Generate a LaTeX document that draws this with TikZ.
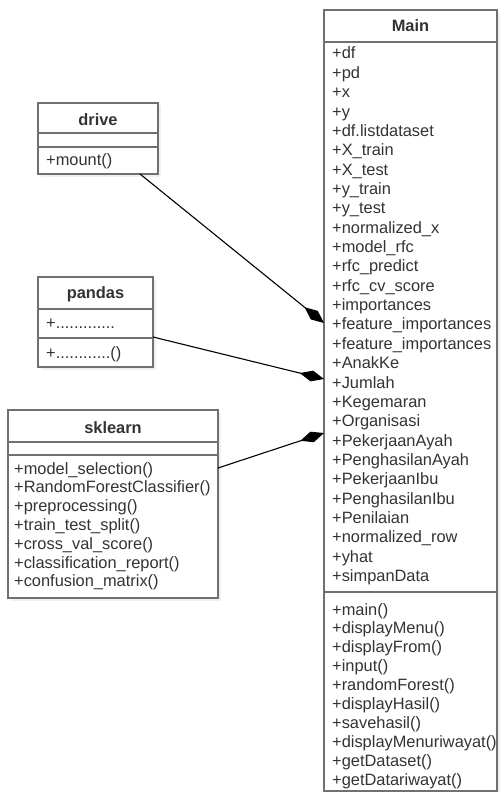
\documentclass[tikz,border=0pt]{standalone}
\usepackage{fontspec}
\setmainfont{Liberation Sans}
\usetikzlibrary{arrows.meta,shadows}
\definecolor{txtgray}{HTML}{333333}
\definecolor{boxgray}{HTML}{707070}
\newcommand{\memfont}{\fontsize{16.4}{19}\selectfont}
\begin{document}
\begin{tikzpicture}[x=1pt,y=-1pt,
  cls/.style={draw=boxgray, line width=1.6pt, fill=white, inner sep=0, outer sep=0,
    drop shadow={shadow xshift=3pt, shadow yshift=-3pt, opacity=0.12}},
  sep/.style={draw=boxgray, line width=1.6pt},
  ttl/.style={anchor=base, inner sep=0, text=txtgray, font=\memfont\bfseries},
  mem/.style={anchor=base west, inner sep=0, text=txtgray, font=\memfont},
  comp/.style={draw=black, line width=1.1pt, -{Diamond[length=25pt,width=11pt]}}]
\useasboundingbox (0,0) rectangle (500,792);
\node[cls, minimum width=173pt, minimum height=781pt] (Main) at (410.5,400.5) {};
\draw[sep] (Main.west |- 0,42) -- (Main.east |- 0,42);
\draw[sep] (Main.west |- 0,592) -- (Main.east |- 0,592);
\node[ttl] (mainT) at (410.5,32) {Main};
\node[mem] (mainA0) at (332,59) {+df};
\node[mem] (mainA1) at (332,78.4) {+pd};
\node[mem] (mainA2) at (332,97.7) {+x};
\node[mem] (mainA3) at (332,117.1) {+y};
\node[mem] (mainA4) at (332,136.4) {+df.listdataset};
\node[mem] (mainA5) at (332,155.8) {+X\_train};
\node[mem] (mainA6) at (332,175.1) {+X\_test};
\node[mem] (mainA7) at (332,194.5) {+y\_train};
\node[mem] (mainA8) at (332,213.8) {+y\_test};
\node[mem] (mainA9) at (332,233.2) {+normalized\_x};
\node[mem] (mainA10) at (332,252.5) {+model\_rfc};
\node[mem] (mainA11) at (332,271.9) {+rfc\_predict};
\node[mem] (mainA12) at (332,291.2) {+rfc\_cv\_score};
\node[mem] (mainA13) at (332,310.6) {+importances};
\node[mem] (mainA14) at (332,329.9) {+feature\_importances};
\node[mem] (mainA15) at (332,349.3) {+feature\_importances};
\node[mem] (mainA16) at (332,368.6) {+AnakKe};
\node[mem] (mainA17) at (332,388) {+Jumlah};
\node[mem] (mainA18) at (332,407.3) {+Kegemaran};
\node[mem] (mainA19) at (332,426.7) {+Organisasi};
\node[mem] (mainA20) at (332,446) {+PekerjaanAyah};
\node[mem] (mainA21) at (332,465.4) {+PenghasilanAyah};
\node[mem] (mainA22) at (332,484.7) {+PekerjaanIbu};
\node[mem] (mainA23) at (332,504.1) {+PenghasilanIbu};
\node[mem] (mainA24) at (332,523.4) {+Penilaian};
\node[mem] (mainA25) at (332,542.8) {+normalized\_row};
\node[mem] (mainA26) at (332,562.1) {+yhat};
\node[mem] (mainA27) at (332,581.5) {+simpanData};
\node[mem] (mainM0) at (332,615) {+main()};
\node[mem] (mainM1) at (332,633.9) {+displayMenu()};
\node[mem] (mainM2) at (332,652.8) {+displayFrom()};
\node[mem] (mainM3) at (332,671.7) {+input()};
\node[mem] (mainM4) at (332,690.6) {+randomForest()};
\node[mem] (mainM5) at (332,709.5) {+displayHasil()};
\node[mem] (mainM6) at (332,728.4) {+savehasil()};
\node[mem] (mainM7) at (332,747.3) {+displayMenuriwayat()};
\node[mem] (mainM8) at (332,766.2) {+getDataset()};
\node[mem] (mainM9) at (332,785.1) {+getDatariwayat()};
\node[cls, minimum width=120pt, minimum height=71pt] (drive) at (98,138.5) {};
\draw[sep] (drive.west |- 0,133) -- (drive.east |- 0,133);
\draw[sep] (drive.west |- 0,147) -- (drive.east |- 0,147);
\node[ttl] (driveT) at (98,125) {drive};
\node[mem] (driveM0) at (46,165) {+mount()};
\node[cls, minimum width=115pt, minimum height=90pt] (pandas) at (95.5,322) {};
\draw[sep] (pandas.west |- 0,309) -- (pandas.east |- 0,309);
\draw[sep] (pandas.west |- 0,338) -- (pandas.east |- 0,338);
\node[ttl] (pandasT) at (95.5,298.5) {pandas};
\node[mem] (pandasA0) at (46,328) {+.............};
\node[mem] (pandasM0) at (46,358) {+............()};
\node[cls, minimum width=210pt, minimum height=188pt] (sklearn) at (113,504) {};
\draw[sep] (sklearn.west |- 0,442) -- (sklearn.east |- 0,442);
\draw[sep] (sklearn.west |- 0,455) -- (sklearn.east |- 0,455);
\node[ttl] (sklearnT) at (113,433) {sklearn};
\node[mem] (sklearnM0) at (14,474) {+model\_selection()};
\node[mem] (sklearnM1) at (14,492.8) {+RandomForestClassifier()};
\node[mem] (sklearnM2) at (14,511.6) {+preprocessing()};
\node[mem] (sklearnM3) at (14,530.4) {+train\_test\_split()};
\node[mem] (sklearnM4) at (14,549.2) {+cross\_val\_score()};
\node[mem] (sklearnM5) at (14,568) {+classification\_report()};
\node[mem] (sklearnM6) at (14,586.8) {+confusion\_matrix()};
\coordinate (driveC) at (drive.south -| 140,0);
\coordinate (pandasC) at (pandas.east |- 0,337);
\coordinate (sklearnC) at (sklearn.east |- 0,468);
\coordinate (mainC0) at (Main.west |- 0,323);
\coordinate (mainC1) at (Main.west |- 0,379);
\coordinate (mainC2) at (Main.west |- 0,433);
\draw[comp](driveC) -- (mainC0);
\draw[comp](pandasC) -- (mainC1);
\draw[comp](sklearnC) -- (mainC2);
\end{tikzpicture}
\end{document}
